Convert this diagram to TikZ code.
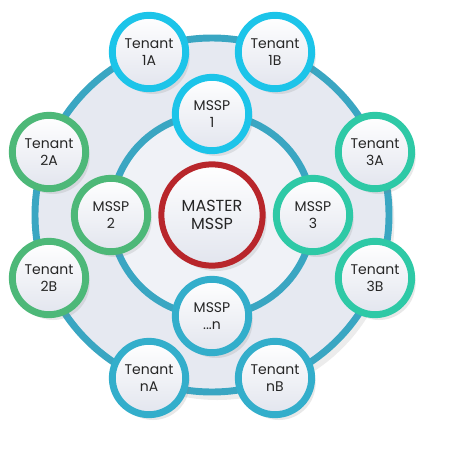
\documentclass[tikz,border=0pt]{standalone}
\usepackage{fontspec}
\setmainfont{Poppins}
\usetikzlibrary{shadows}
\definecolor{cyanvif}{HTML}{1CC4E9}
\definecolor{vert}{HTML}{4DB878}
\definecolor{turquoise}{HTML}{2EC9A6}
\definecolor{bleu}{HTML}{33AECB}
\definecolor{rouge}{HTML}{B8262B}
\definecolor{anneaucol}{HTML}{3AA6C2}
\definecolor{fonddisque}{HTML}{E6E9F1}
\definecolor{fondnoeud}{HTML}{E2E5EE}
\begin{document}
\begin{tikzpicture}[x=0.75pt,y=-0.75pt]
			\tikzstyle{anneau}=[draw=anneaucol,line width=5.2pt]
			\tikzstyle{noeud}=[circle,draw,line width=5.2pt,minimum size=55pt,inner sep=0pt,align=center,
				font=\fontsize{10.5}{12.5}\selectfont,text=black!85,top color=white,bottom color=fondnoeud,
				drop shadow={opacity=0.18,shadow xshift=3pt,shadow yshift=-4pt}]
			\tikzstyle{maitre}=[noeud,draw=rouge,line width=4.5pt,minimum size=76pt,font=\fontsize{12}{14}\selectfont]
			\def\Cx{212}\def\Cy{215}\def\Proche{63}\def\Loin{163}\def\RayonMssp{101}
			\useasboundingbox (0,0) rectangle (450,450);
			\coordinate (C) at (\Cx,\Cy);
			% disques de fond
			\fill[fonddisque,drop shadow={opacity=0.15,shadow xshift=4pt,shadow yshift=-6pt}] (C) circle[radius=177];
			\draw[anneau] (C) circle[radius=177];
			\fill[fonddisque!60!white] (C) circle[radius=\RayonMssp];
			\draw[anneau] (C) circle[radius=\RayonMssp];
			% centre
			\node[maitre] (M) at (C) {MASTER\\MSSP};
			% MSSP
			\node[noeud,draw=cyanvif] (M1) at (\Cx,\Cy-\RayonMssp) {MSSP\\1};
			\node[noeud,draw=vert] (M2) at (\Cx-\RayonMssp,\Cy) {MSSP\\2};
			\node[noeud,draw=turquoise] (M3) at (\Cx+\RayonMssp,\Cy) {MSSP\\3};
			\node[noeud,draw=bleu] (Mn) at (\Cx,\Cy+\RayonMssp) {MSSP\\...n};
			% locataires
			\node[noeud,draw=cyanvif] (T1a) at (\Cx-\Proche,\Cy-\Loin) {Tenant\\1A};
			\node[noeud,draw=cyanvif] (T1b) at (\Cx+\Proche,\Cy-\Loin) {Tenant\\1B};
			\node[noeud,draw=vert] (T2a) at (\Cx-\Loin,\Cy-\Proche) {Tenant\\2A};
			\node[noeud,draw=vert] (T2b) at (\Cx-\Loin,\Cy+\Proche) {Tenant\\2B};
			\node[noeud,draw=turquoise] (T3a) at (\Cx+\Loin,\Cy-\Proche) {Tenant\\3A};
			\node[noeud,draw=turquoise] (T3b) at (\Cx+\Loin,\Cy+\Proche) {Tenant\\3B};
			\node[noeud,draw=bleu] (Tna) at (\Cx-\Proche,\Cy+\Loin) {Tenant\\nA};
			\node[noeud,draw=bleu] (Tnb) at (\Cx+\Proche,\Cy+\Loin) {Tenant\\nB};
		\end{tikzpicture}
\end{document}
